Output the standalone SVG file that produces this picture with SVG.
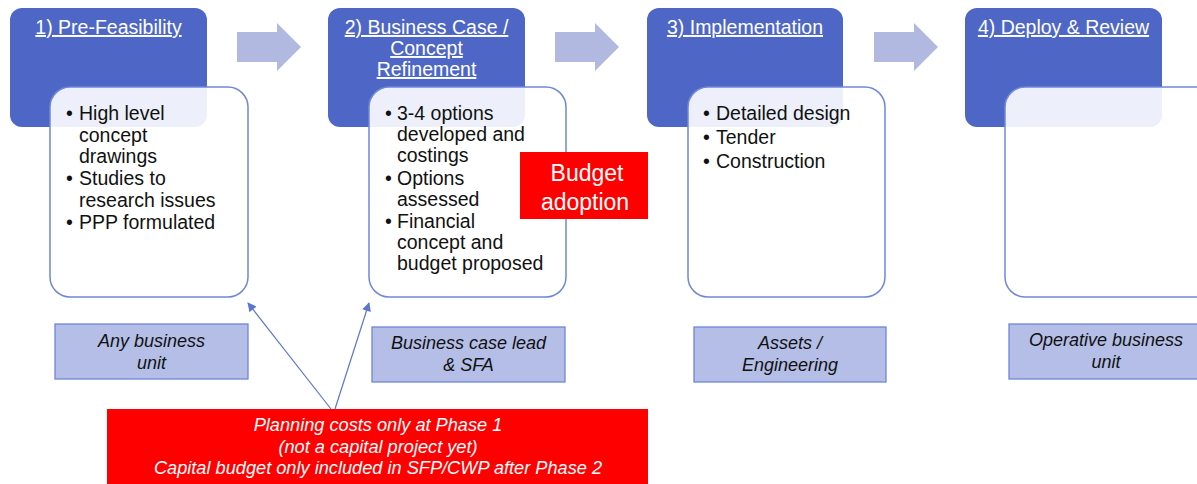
<svg xmlns="http://www.w3.org/2000/svg" width="1197" height="484" viewBox="0 0 1197 484">
<defs>
<style>
.hdr{fill:#4e67c7;}
.card{fill:#ffffff;fill-opacity:0.9;stroke:#6f87d8;stroke-width:1.5;}
.ttl{font-family:"Liberation Sans",Arial,sans-serif;font-size:19.5px;fill:#ffffff;text-anchor:middle;text-decoration:underline;}
.bul{font-family:"Liberation Sans",Arial,sans-serif;font-size:19.5px;fill:#111111;}
.role{fill:#b4bee7;stroke:#6f86d9;stroke-width:1.3;}
.rtxt{font-family:"Liberation Sans",Arial,sans-serif;font-size:18px;font-style:italic;fill:#111111;text-anchor:middle;}
.flow{fill:#b2b9e1;}
.red{fill:#ff0000;}
.wtxt{font-family:"Liberation Sans",Arial,sans-serif;fill:#ffffff;text-anchor:middle;}
.conn{stroke:#5b76d0;stroke-width:1.2;fill:none;}
</style>
<marker id="ah" viewBox="0 0 10 10" refX="9" refY="5" markerWidth="10" markerHeight="9" markerUnits="userSpaceOnUse" orient="auto">
<path d="M0,0 L10,5 L0,10 z" fill="#5b76d0"/>
</marker>
</defs>
<rect width="1197" height="484" fill="#ffffff"/>

<g id="flow-arrows">
<path class="flow" d="M237,32 H277 V23 L301,47 L277,71 V62 H237 z"/>
<path class="flow" d="M555,32 H595 V23 L619,47 L595,71 V62 H555 z"/>
<path class="flow" d="M874,32 H914 V23 L938,47 L914,71 V62 H874 z"/>
</g>

<g id="phase1">
<rect class="hdr" x="10" y="8" width="197" height="119" rx="12"/>
<text class="ttl" x="108.5" y="34">1) Pre-Feasibility</text>
<rect class="card" x="50" y="87" width="198" height="210" rx="20"/>
<g class="bul">
<text x="66" y="120">•</text><text x="79" y="120">High level</text>
<text x="79" y="141.5">concept</text>
<text x="79" y="163">drawings</text>
<text x="66" y="185">•</text><text x="79" y="185">Studies to</text>
<text x="79" y="206.5">research issues</text>
<text x="66" y="229">•</text><text x="79" y="229">PPP formulated</text>
</g>
</g>

<g id="phase2">
<rect class="hdr" x="328" y="8" width="197" height="119" rx="12"/>
<text class="ttl" x="426.5" y="34">2) Business Case /</text>
<text class="ttl" x="426.5" y="55">Concept</text>
<text class="ttl" x="426.5" y="76">Refinement</text>
<rect class="card" x="369" y="87" width="197" height="210" rx="20"/>
<g class="bul">
<text x="385" y="119.5">•</text><text x="397" y="119.5">3-4 options</text>
<text x="397" y="141">developed and</text>
<text x="397" y="162">costings</text>
<text x="385" y="184.5">•</text><text x="397" y="184.5">Options</text>
<text x="397" y="205.5">assessed</text>
<text x="385" y="228">•</text><text x="397" y="228">Financial</text>
<text x="397" y="249">concept and</text>
<text x="397" y="270">budget proposed</text>
</g>
</g>

<g id="budget-adoption">
<rect class="red" x="520" y="152" width="128" height="67"/>
<text class="wtxt" x="587" y="181" font-size="23">Budget</text>
<text class="wtxt" x="585" y="210" font-size="23">adoption</text>
</g>

<g id="phase3">
<rect class="hdr" x="647" y="8" width="196" height="119" rx="12"/>
<text class="ttl" x="745" y="34">3) Implementation</text>
<rect class="card" x="688" y="87" width="197" height="210" rx="20"/>
<g class="bul">
<text x="703" y="120">•</text><text x="716" y="120">Detailed design</text>
<text x="703" y="144">•</text><text x="716" y="144">Tender</text>
<text x="703" y="168">•</text><text x="716" y="168">Construction</text>
</g>
</g>

<g id="phase4">
<rect class="hdr" x="965" y="8" width="197" height="119" rx="12"/>
<text class="ttl" x="1063.5" y="34">4) Deploy &amp; Review</text>
<rect class="card" x="1005" y="87" width="210" height="210" rx="20"/>
</g>

<g id="role1">
<rect class="role" x="55" y="324" width="193" height="55"/>
<text class="rtxt" x="151.5" y="347">Any business</text>
<text class="rtxt" x="151.5" y="369">unit</text>
</g>
<g id="role2">
<rect class="role" x="372" y="327" width="193" height="55"/>
<text class="rtxt" x="468.5" y="349">Business case lead</text>
<text class="rtxt" x="468.5" y="371">&amp; SFA</text>
</g>
<g id="role3">
<rect class="role" x="694" y="327" width="192" height="55"/>
<text class="rtxt" x="790" y="349">Assets /</text>
<text class="rtxt" x="790" y="371">Engineering</text>
</g>
<g id="role4">
<rect class="role" x="1009" y="324" width="200" height="55"/>
<text class="rtxt" x="1106" y="346">Operative business</text>
<text class="rtxt" x="1106" y="368">unit</text>
</g>

<g id="budget-note">
<rect class="red" x="107" y="409" width="541" height="80"/>
<text class="wtxt" x="378" y="431" font-size="18.2" font-style="italic">Planning costs only at Phase 1</text>
<text class="wtxt" x="378" y="452.5" font-size="18.2" font-style="italic">(not a capital project yet)</text>
<text class="wtxt" x="378" y="474" font-size="18.2" font-style="italic">Capital budget only included in SFP/CWP after Phase 2</text>
</g>

<g id="connectors">
<line class="conn" x1="331" y1="409" x2="248" y2="303" marker-end="url(#ah)"/>
<line class="conn" x1="335" y1="409" x2="369" y2="303" marker-end="url(#ah)"/>
</g>
</svg>
